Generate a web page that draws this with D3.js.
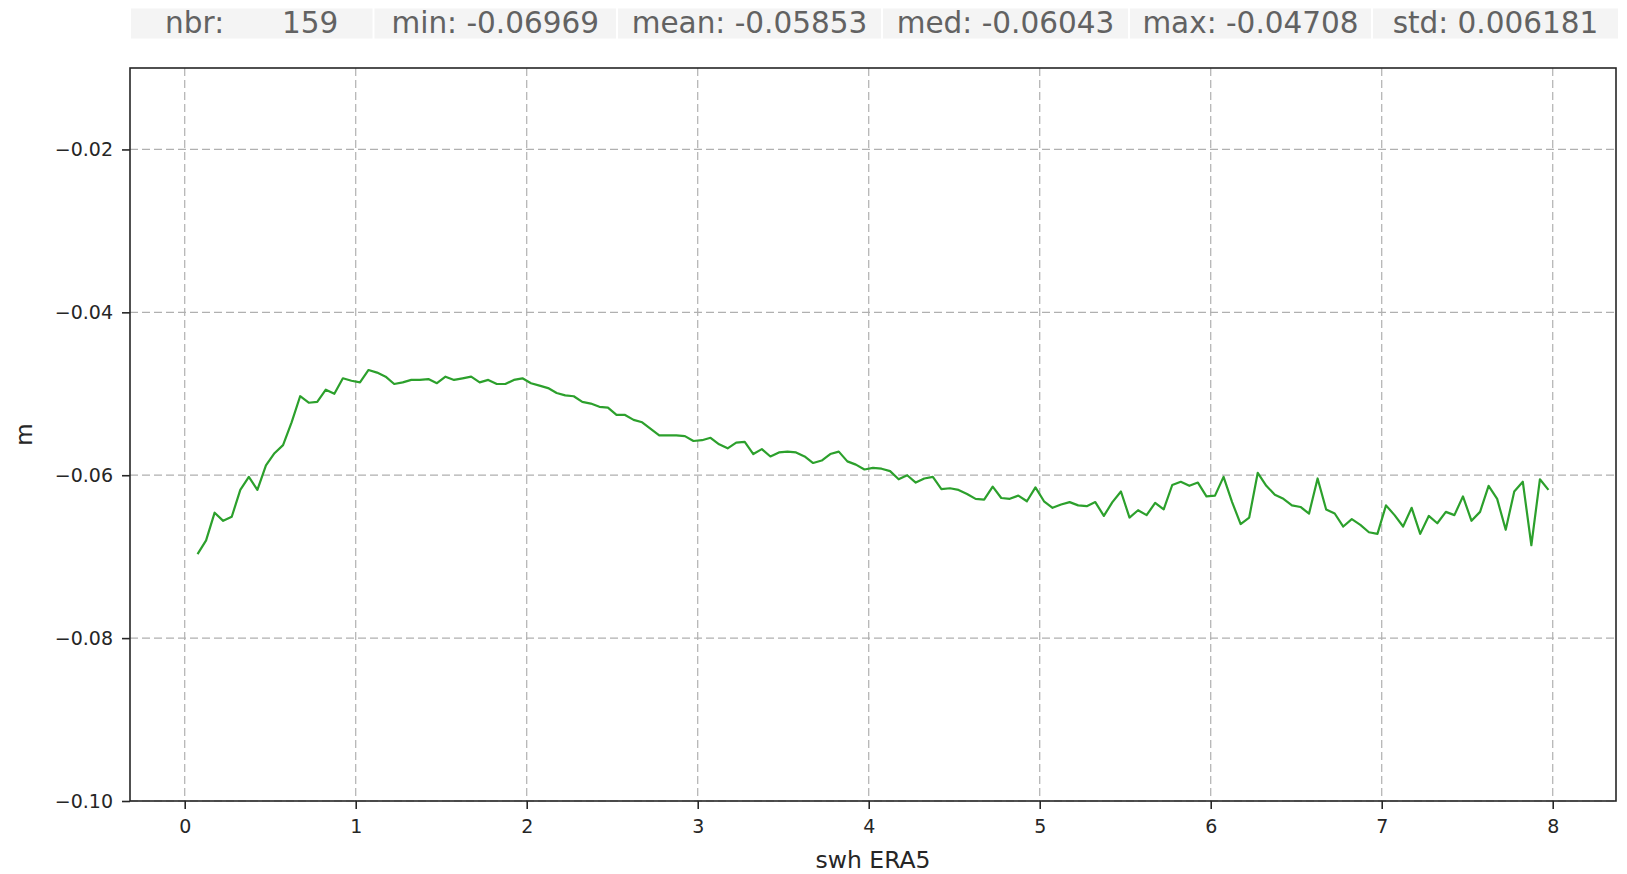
<!DOCTYPE html>
<html>
<head>
<meta charset="utf-8">
<script src="https://cdn.jsdelivr.net/npm/d3@7"></script>
<style>
  body { margin: 0; background: #fff; }
  svg { display: block; font-family: "DejaVu Sans", sans-serif; }
</style>
</head>
<body>
<svg id="chart" width="1627" height="874"></svg>
<script>
// Summary statistics shown in the header strip
const statLabels = ["nbr:", "min:", "mean:", "med:", "max:", "std:"];
const statValues = ["159", "-0.06969", "-0.05853", "-0.06043", "-0.04708", "0.006181"];

// Significant wave height (ERA5) bin centres, m
const swh = [
  0.075, 0.125, 0.175, 0.225, 0.275, 0.325, 0.375, 0.425, 0.475, 0.525,
  0.575, 0.625, 0.675, 0.725, 0.775, 0.825, 0.875, 0.925, 0.975, 1.025,
  1.075, 1.125, 1.175, 1.225, 1.275, 1.325, 1.375, 1.425, 1.475, 1.525,
  1.575, 1.625, 1.675, 1.725, 1.775, 1.825, 1.875, 1.925, 1.975, 2.025,
  2.075, 2.125, 2.175, 2.225, 2.275, 2.325, 2.375, 2.425, 2.475, 2.525,
  2.575, 2.625, 2.675, 2.725, 2.775, 2.825, 2.875, 2.925, 2.975, 3.025,
  3.075, 3.125, 3.175, 3.225, 3.275, 3.325, 3.375, 3.425, 3.475, 3.525,
  3.575, 3.625, 3.675, 3.725, 3.775, 3.825, 3.875, 3.925, 3.975, 4.025,
  4.075, 4.125, 4.175, 4.225, 4.275, 4.325, 4.375, 4.425, 4.475, 4.525,
  4.575, 4.625, 4.675, 4.725, 4.775, 4.825, 4.875, 4.925, 4.975, 5.025,
  5.075, 5.125, 5.175, 5.225, 5.275, 5.325, 5.375, 5.425, 5.475, 5.525,
  5.575, 5.625, 5.675, 5.725, 5.775, 5.825, 5.875, 5.925, 5.975, 6.025,
  6.075, 6.125, 6.175, 6.225, 6.275, 6.325, 6.375, 6.425, 6.475, 6.525,
  6.575, 6.625, 6.675, 6.725, 6.775, 6.825, 6.875, 6.925, 6.975, 7.025,
  7.075, 7.125, 7.175, 7.225, 7.275, 7.325, 7.375, 7.425, 7.475, 7.525,
  7.575, 7.625, 7.675, 7.725, 7.775, 7.825, 7.875, 7.925, 7.975
];

// Mean difference per bin, m
const diff = [
  -0.06969, -0.0680, -0.0646, -0.0656, -0.0651, -0.0618, -0.0602, -0.0618, -0.0588, -0.0573,
  -0.0563, -0.0535, -0.0503, -0.0511, -0.0510, -0.0495, -0.0500, -0.0481, -0.0484, -0.0486,
  -0.04708, -0.0474, -0.0479, -0.0488, -0.0486, -0.0483, -0.0483, -0.0482, -0.0487, -0.0479,
  -0.0483, -0.0481, -0.0479, -0.0486, -0.0483, -0.0488, -0.0488, -0.0483, -0.0481, -0.0487,
  -0.0490, -0.0493, -0.0499, -0.0502, -0.0503, -0.0510, -0.0512, -0.0516, -0.0517, -0.0526,
  -0.0526, -0.0532, -0.0535, -0.0543, -0.0551, -0.0551, -0.0551, -0.0552, -0.0558, -0.0557,
  -0.0554, -0.0562, -0.0567, -0.0560, -0.0559, -0.0574, -0.0568, -0.0577, -0.0572, -0.0571,
  -0.0572, -0.0577, -0.0585, -0.0582, -0.0574, -0.0571, -0.0583, -0.0587, -0.0593, -0.0591,
  -0.0592, -0.0595, -0.0605, -0.0600, -0.0609, -0.0604, -0.0602, -0.0617, -0.0616, -0.0618,
  -0.0623, -0.0629, -0.0630, -0.0614, -0.0628, -0.0629, -0.0625, -0.0632, -0.0615, -0.0632,
  -0.0640, -0.0636, -0.0633, -0.0637, -0.0638, -0.0633, -0.0650, -0.0633, -0.0620, -0.0652,
  -0.0643, -0.0649, -0.0634, -0.0642, -0.0612, -0.0608, -0.0613, -0.0609, -0.0626, -0.0625,
  -0.0602, -0.0633, -0.0660, -0.0652, -0.0597, -0.0613, -0.0624, -0.0629, -0.0637, -0.0639,
  -0.0647, -0.0604, -0.0642, -0.0647, -0.0663, -0.0654, -0.0661, -0.0670, -0.0672, -0.0637,
  -0.0649, -0.0663, -0.0640, -0.0672, -0.0650, -0.0659, -0.0645, -0.0649, -0.0626, -0.0656,
  -0.0645, -0.0613, -0.0629, -0.0667, -0.0620, -0.0608, -0.0686, -0.0605, -0.0618
];

const xTicks = [0, 1, 2, 3, 4, 5, 6, 7, 8];
const yTicks = [-0.10, -0.08, -0.06, -0.04, -0.02];
const yLimits = [-0.10, -0.01];

const svg = d3.select("#chart");

// ---- header strip with the statistics ----
const cellEdges = [130, 373.5, 617, 882, 1129, 1372, 1619];
const header = svg.append("g");
statLabels.forEach((lab, i) => {
  const x0 = cellEdges[i] + 1, x1 = cellEdges[i + 1] - 1;
  header.append("rect")
    .attr("x", x0).attr("y", 8.5)
    .attr("width", x1 - x0).attr("height", 30)
    .attr("fill", "#f4f4f4");
  const t = header.append("text")
    .attr("x", (x0 + x1) / 2).attr("y", 32.5)
    .attr("text-anchor", "middle")
    .attr("font-size", 29.5)
    .attr("fill", "#626262");
  if (i === 0) {
    t.append("tspan").text(lab);
    t.append("tspan").attr("dx", 58).text(statValues[i]);
  } else {
    t.text(lab + " " + statValues[i]);
  }
});

// ---- plot area ----
const plot = { left: 130, right: 1616, top: 68, bottom: 801 };

const xExt = d3.extent(swh);
const xPad = 0.05 * (xExt[1] - xExt[0]);
const x = d3.scaleLinear().domain([xExt[0] - xPad, xExt[1] + xPad]).range([plot.left, plot.right]);
const y = d3.scaleLinear().domain(yLimits).range([plot.bottom, plot.top]);

// grid
const grid = svg.append("g")
  .attr("stroke", "#b0b0b0").attr("stroke-width", 1.2)
  .attr("stroke-dasharray", "8,4");
grid.selectAll("line.gx").data(xTicks).join("line")
  .attr("x1", d => x(d)).attr("x2", d => x(d))
  .attr("y1", plot.top).attr("y2", plot.bottom);
grid.selectAll("line.gy").data(yTicks).join("line")
  .attr("x1", plot.left).attr("x2", plot.right)
  .attr("y1", d => y(d)).attr("y2", d => y(d));

// data line
const line = d3.line().x((d, i) => x(swh[i])).y(d => y(d));
svg.append("path")
  .datum(diff)
  .attr("d", line)
  .attr("fill", "none")
  .attr("stroke", "#2ca02c")
  .attr("stroke-width", 2.2)
  .attr("stroke-linejoin", "round");

// axes
const fmtY = d3.format(".2f");
const xAxis = svg.append("g")
  .attr("transform", `translate(0,${plot.bottom})`)
  .call(d3.axisBottom(x).tickValues(xTicks).tickSize(8).tickPadding(11).tickFormat(d3.format("d")));
const yAxis = svg.append("g")
  .attr("transform", `translate(${plot.left},0)`)
  .call(d3.axisLeft(y).tickValues(yTicks).tickSize(8).tickPadding(9).tickFormat(fmtY));

[xAxis, yAxis].forEach(g => {
  g.select(".domain").remove();
  g.selectAll(".tick line").attr("stroke", "#262626").attr("stroke-width", 1.6);
  g.selectAll(".tick text")
    .attr("font-family", "DejaVu Sans, sans-serif")
    .attr("font-size", 19)
    .attr("fill", "#262626");
});

// frame
svg.append("rect")
  .attr("x", plot.left).attr("y", plot.top)
  .attr("width", plot.right - plot.left).attr("height", plot.bottom - plot.top)
  .attr("fill", "none")
  .attr("stroke", "#262626")
  .attr("stroke-width", 1.6);

// axis titles
svg.append("text")
  .attr("x", (plot.left + plot.right) / 2).attr("y", 868)
  .attr("text-anchor", "middle")
  .attr("font-size", 23.5)
  .attr("fill", "#262626")
  .text("swh ERA5");

svg.append("text")
  .attr("transform", `translate(32,${(plot.top + plot.bottom) / 2}) rotate(-90)`)
  .attr("text-anchor", "middle")
  .attr("font-size", 23)
  .attr("fill", "#262626")
  .text("m");
</script>
</body>
</html>
